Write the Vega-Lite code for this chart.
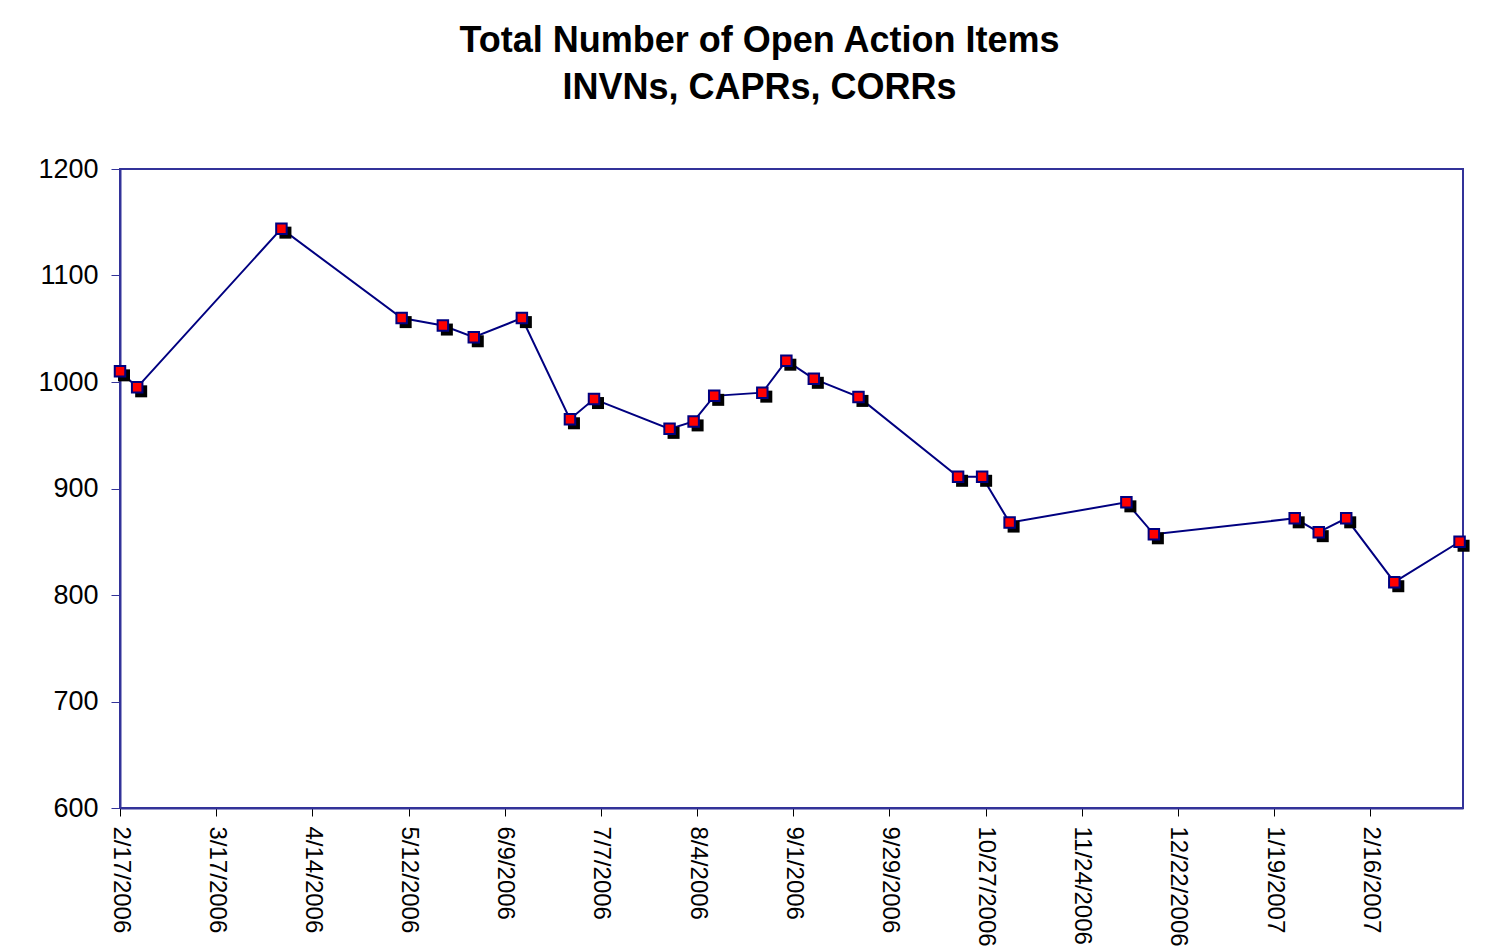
{
  "$schema": "https://vega.github.io/schema/vega-lite/v6.json",
  "width": 1343,
  "height": 639,
  "autosize": {"type": "none"},
  "padding": {"left": 120, "top": 169, "right": 28, "bottom": 144},
  "background": "white",
  "title": {
    "text": ["Total Number of Open Action Items", "INVNs, CAPRs, CORRs"],
    "anchor": "middle",
    "font": "Liberation Sans",
    "fontSize": 36,
    "fontWeight": "bold",
    "color": "black",
    "lineHeight": 47,
    "offset": 48,
    "dx": -32
  },
  "data": {
    "values": [
      {"date": "2006/02/17", "count": 1010},
      {"date": "2006/02/22", "count": 995},
      {"date": "2006/04/05", "count": 1144},
      {"date": "2006/05/10", "count": 1060},
      {"date": "2006/05/22", "count": 1053},
      {"date": "2006/05/31", "count": 1042},
      {"date": "2006/06/14", "count": 1060},
      {"date": "2006/06/28", "count": 965},
      {"date": "2006/07/05", "count": 984},
      {"date": "2006/07/27", "count": 956},
      {"date": "2006/08/03", "count": 963},
      {"date": "2006/08/09", "count": 987},
      {"date": "2006/08/23", "count": 990},
      {"date": "2006/08/30", "count": 1020},
      {"date": "2006/09/07", "count": 1003},
      {"date": "2006/09/20", "count": 986},
      {"date": "2006/10/19", "count": 911},
      {"date": "2006/10/26", "count": 911},
      {"date": "2006/11/03", "count": 868},
      {"date": "2006/12/07", "count": 887},
      {"date": "2006/12/15", "count": 857},
      {"date": "2007/01/25", "count": 872},
      {"date": "2007/02/01", "count": 859},
      {"date": "2007/02/09", "count": 872},
      {"date": "2007/02/23", "count": 812},
      {"date": "2007/03/14", "count": 850}
    ]
  },
  "encoding": {
    "x": {
      "field": "date",
      "type": "temporal",
      "title": null,
      "scale": {
        "domain": [{"year": 2006, "month": 2, "date": 17}, {"year": 2007, "month": 3, "date": 15}]
      },
      "axis": {
        "values": [
          {"year": 2006, "month": 2, "date": 17},
          {"year": 2006, "month": 3, "date": 17},
          {"year": 2006, "month": 4, "date": 14},
          {"year": 2006, "month": 5, "date": 12},
          {"year": 2006, "month": 6, "date": 9},
          {"year": 2006, "month": 7, "date": 7},
          {"year": 2006, "month": 8, "date": 4},
          {"year": 2006, "month": 9, "date": 1},
          {"year": 2006, "month": 9, "date": 29},
          {"year": 2006, "month": 10, "date": 27},
          {"year": 2006, "month": 11, "date": 24},
          {"year": 2006, "month": 12, "date": 22},
          {"year": 2007, "month": 1, "date": 19},
          {"year": 2007, "month": 2, "date": 16}
        ],
        "format": "%-m/%-d/%Y",
        "labelAngle": 90,
        "labelAlign": "left",
        "labelBaseline": "middle",
        "labelPadding": 10,
        "labelFontSize": 24,
        "tickColor": "black",
        "tickSize": 8,
        "grid": false,
        "labelOverlap": false,
        "labelFlush": false
      }
    },
    "y": {
      "field": "count",
      "type": "quantitative",
      "title": null,
      "scale": {"domain": [600, 1200], "nice": false, "zero": false},
      "axis": {
        "values": [600, 700, 800, 900, 1000, 1100, 1200],
        "format": "d",
        "tickColor": "#333399",
        "tickSize": 9,
        "labelPadding": 13,
        "labelFontSize": 27,
        "grid": false
      }
    }
  },
  "layer": [
    {"mark": {"type": "line", "color": "#000080", "strokeWidth": 2}},
    {"mark": {"type": "point", "shape": "square", "filled": true, "color": "black", "opacity": 1, "size": 144, "xOffset": 4, "yOffset": 4}},
    {"mark": {"type": "point", "shape": "square", "filled": true, "fill": "#ff0000", "stroke": "#000080", "strokeWidth": 2, "opacity": 1, "size": 110}}
  ],
  "config": {
    "font": "Liberation Sans",
    "view": {"stroke": "#333399", "strokeWidth": 2},
    "axis": {
      "domainColor": "#333399",
      "domainWidth": 2,
      "labelFont": "Liberation Sans",
      "labelColor": "black"
    }
  }
}
